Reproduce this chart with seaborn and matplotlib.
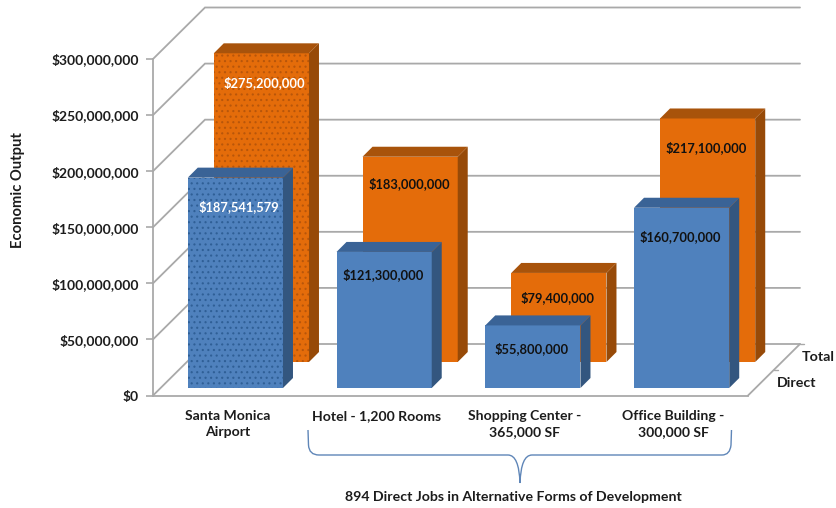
import numpy as np
import pandas as pd
import matplotlib
matplotlib.use("Agg")
import matplotlib.pyplot as plt
import seaborn as sns
from matplotlib.patches import Polygon, PathPatch
from matplotlib.path import Path
from matplotlib.transforms import Affine2D

projects = ["Santa Monica\nAirport", "Hotel - 1,200 Rooms", "Shopping Center -\n365,000 SF", "Office Building -\n300,000 SF"]
direct = [187541579, 121300000, 55800000, 160700000]
total = [275200000, 183000000, 79400000, 217100000]
direct_drop = [29, 23, 23, 29]
total_drop = [29, 27, 25, 29]
yticks = [0, 50000000, 100000000, 150000000, 200000000, 250000000, 300000000]

GRID = "#a9a9a9"
TXT = "#1c1c1c"
FONT = "Lato"

sns.set_theme(style="white")
plt.rcParams["font.family"] = [FONT, "DejaVu Sans"]
plt.rcParams["hatch.linewidth"] = 0.8

fig = plt.figure(figsize=(8.36, 5.08), dpi=100)
ax = fig.add_axes([153 / 836, (508 - 395.5) / 508, 595 / 836, 336.5 / 508])

df = pd.DataFrame({
    "project": projects * 2,
    "series": ["Direct"] * 4 + ["Total"] * 4,
    "value": direct + total,
})
sns.barplot(data=df, x="project", y="value", hue="series", hue_order=["Direct", "Total"],
            palette={"Direct": "#4f81bd", "Total": "#e46c0a"}, dodge=False, width=0.64,
            saturation=1, legend=False, ax=ax)
ax.set_xlim(-0.5, 3.5)
ax.set_ylim(0, 300000000)

# data units for one pixel
px_x = 4 / 595
px_y = 300000000 / 336.5


def extrude(bar, side, top, z):
    x0, w = bar.get_x(), bar.get_width()
    y0, h = bar.get_y(), bar.get_height()
    dx, dy = 10 * px_x, 10 * px_y
    side_pts = [(x0 + w, y0), (x0 + w + dx, y0 + dy), (x0 + w + dx, y0 + h + dy), (x0 + w, y0 + h)]
    top_pts = [(x0, y0 + h), (x0 + dx, y0 + h + dy), (x0 + w + dx, y0 + h + dy), (x0 + w, y0 + h)]
    for pts, col in [(side_pts, side), (top_pts, top)]:
        ax.add_patch(Polygon(pts, closed=True, facecolor=col, edgecolor=col, lw=0, zorder=z, clip_on=False))


def style_bars(bars, shift_x, shift_y, side, top, z, dots, values, drops):
    for i, bar in enumerate(bars):
        bar.set_x(bar.get_x() + shift_x * px_x)
        bar.set_y(shift_y * px_y)
        bar.set_zorder(z)
        bar.set_clip_on(False)
        if i == 0:
            bar.set_hatch("...")
            bar.set_edgecolor(dots)
        bar.set_linewidth(0)
        extrude(bar, side, top, z)
        ax.annotate(f"${values[i]:,.0f}",
                    xy=(bar.get_x() + bar.get_width() / 2, bar.get_y() + bar.get_height()),
                    xytext=(3 if i == 0 else -1, -drops[i]), textcoords="offset pixels", ha="center", va="center",
                    fontsize=9.3, fontweight="bold", color="white" if i == 0 else "#111111",
                    zorder=z + 1, annotation_clip=False)


style_bars(ax.containers[0], 8, 7.5, "#33567f", "#3a6396", 4, "#2f5f96", direct, direct_drop)
style_bars(ax.containers[1], 34, 33.5, "#974a08", "#a8530b", 3, "#b8560a", total, total_drop)

# walls and floor
wall_x, wall_y = 52 * px_x, 51.5 * px_y
for v in yticks:
    ax.plot([-0.5, -0.5 + wall_x, 3.5 + wall_x], [v, v + wall_y, v + wall_y], color=GRID, lw=1.3,
            zorder=1, clip_on=False, solid_joinstyle="miter")
ax.plot([3.5, 3.5 + wall_x], [0, wall_y], color=GRID, lw=1.3, zorder=1, clip_on=False)
ax.plot([3.5 + wall_x, 3.5 + wall_x + 4 * px_x], [wall_y, wall_y], color=GRID, lw=1.0, clip_on=False)
ax.plot([3.5 + wall_x * 0.5, 3.5 + wall_x * 0.5 + 4 * px_x], [wall_y * 0.5, wall_y * 0.5], color=GRID, lw=1.0, clip_on=False)

for s in ["top", "right"]:
    ax.spines[s].set_visible(False)
for s in ["left", "bottom"]:
    ax.spines[s].set_color(GRID)
    ax.spines[s].set_linewidth(1.3)

ax.set_yticks(yticks)
ax.set_yticklabels([f"${v:,.0f}" for v in yticks], fontsize=10, fontweight="bold", color=TXT)
ax.set_xticks(range(4))
ax.set_xticklabels(projects, fontsize=10.1, fontweight="bold", color=TXT, linespacing=1.4, va="top")
ax.tick_params(axis="y", length=5, width=1.2, color=GRID, pad=5, left=True)
ax.tick_params(axis="x", length=0, pad=10.5)
ax.set_xlabel("")
ax.set_ylabel("")

# everything below is placed in picture pixels
pix = Affine2D().scale(1, -1).translate(0, 508)
fig.text(18 / 836, 1 - 190 / 508, "Economic Output", rotation=90, ha="center", va="center",
         fontsize=10.6, fontweight="bold", color=TXT)
fig.text(802 / 836, 1 - 357 / 508, "Total", ha="left", va="center", fontsize=10.3, fontweight="bold", color=TXT)
fig.text(777 / 836, 1 - 383 / 508, "Direct", ha="left", va="center", fontsize=10.3, fontweight="bold", color=TXT)
fig.text(513.5 / 836, 1 - 497 / 508, "894 Direct Jobs in Alternative Forms of Development", ha="center", va="center",
         fontsize=10.2, fontweight="bold", color=TXT)

brace = [
    (Path.MOVETO, (308, 430)), (Path.LINETO, (308.5, 445)), (Path.CURVE3, (309, 455)), (Path.CURVE3, (319, 455)),
    (Path.LINETO, (508, 455)), (Path.CURVE3, (519, 455)), (Path.CURVE3, (520, 483)),
    (Path.CURVE3, (521, 455)), (Path.CURVE3, (532, 455)),
    (Path.LINETO, (722, 455)), (Path.CURVE3, (730, 455)), (Path.CURVE3, (731, 445)), (Path.LINETO, (731.5, 430)),
]
codes, verts = zip(*brace)
fig.add_artist(PathPatch(Path(verts, codes), facecolor="none", edgecolor="#5f86b8", lw=1.0, transform=pix))

fig.savefig("out.png", dpi=100)
